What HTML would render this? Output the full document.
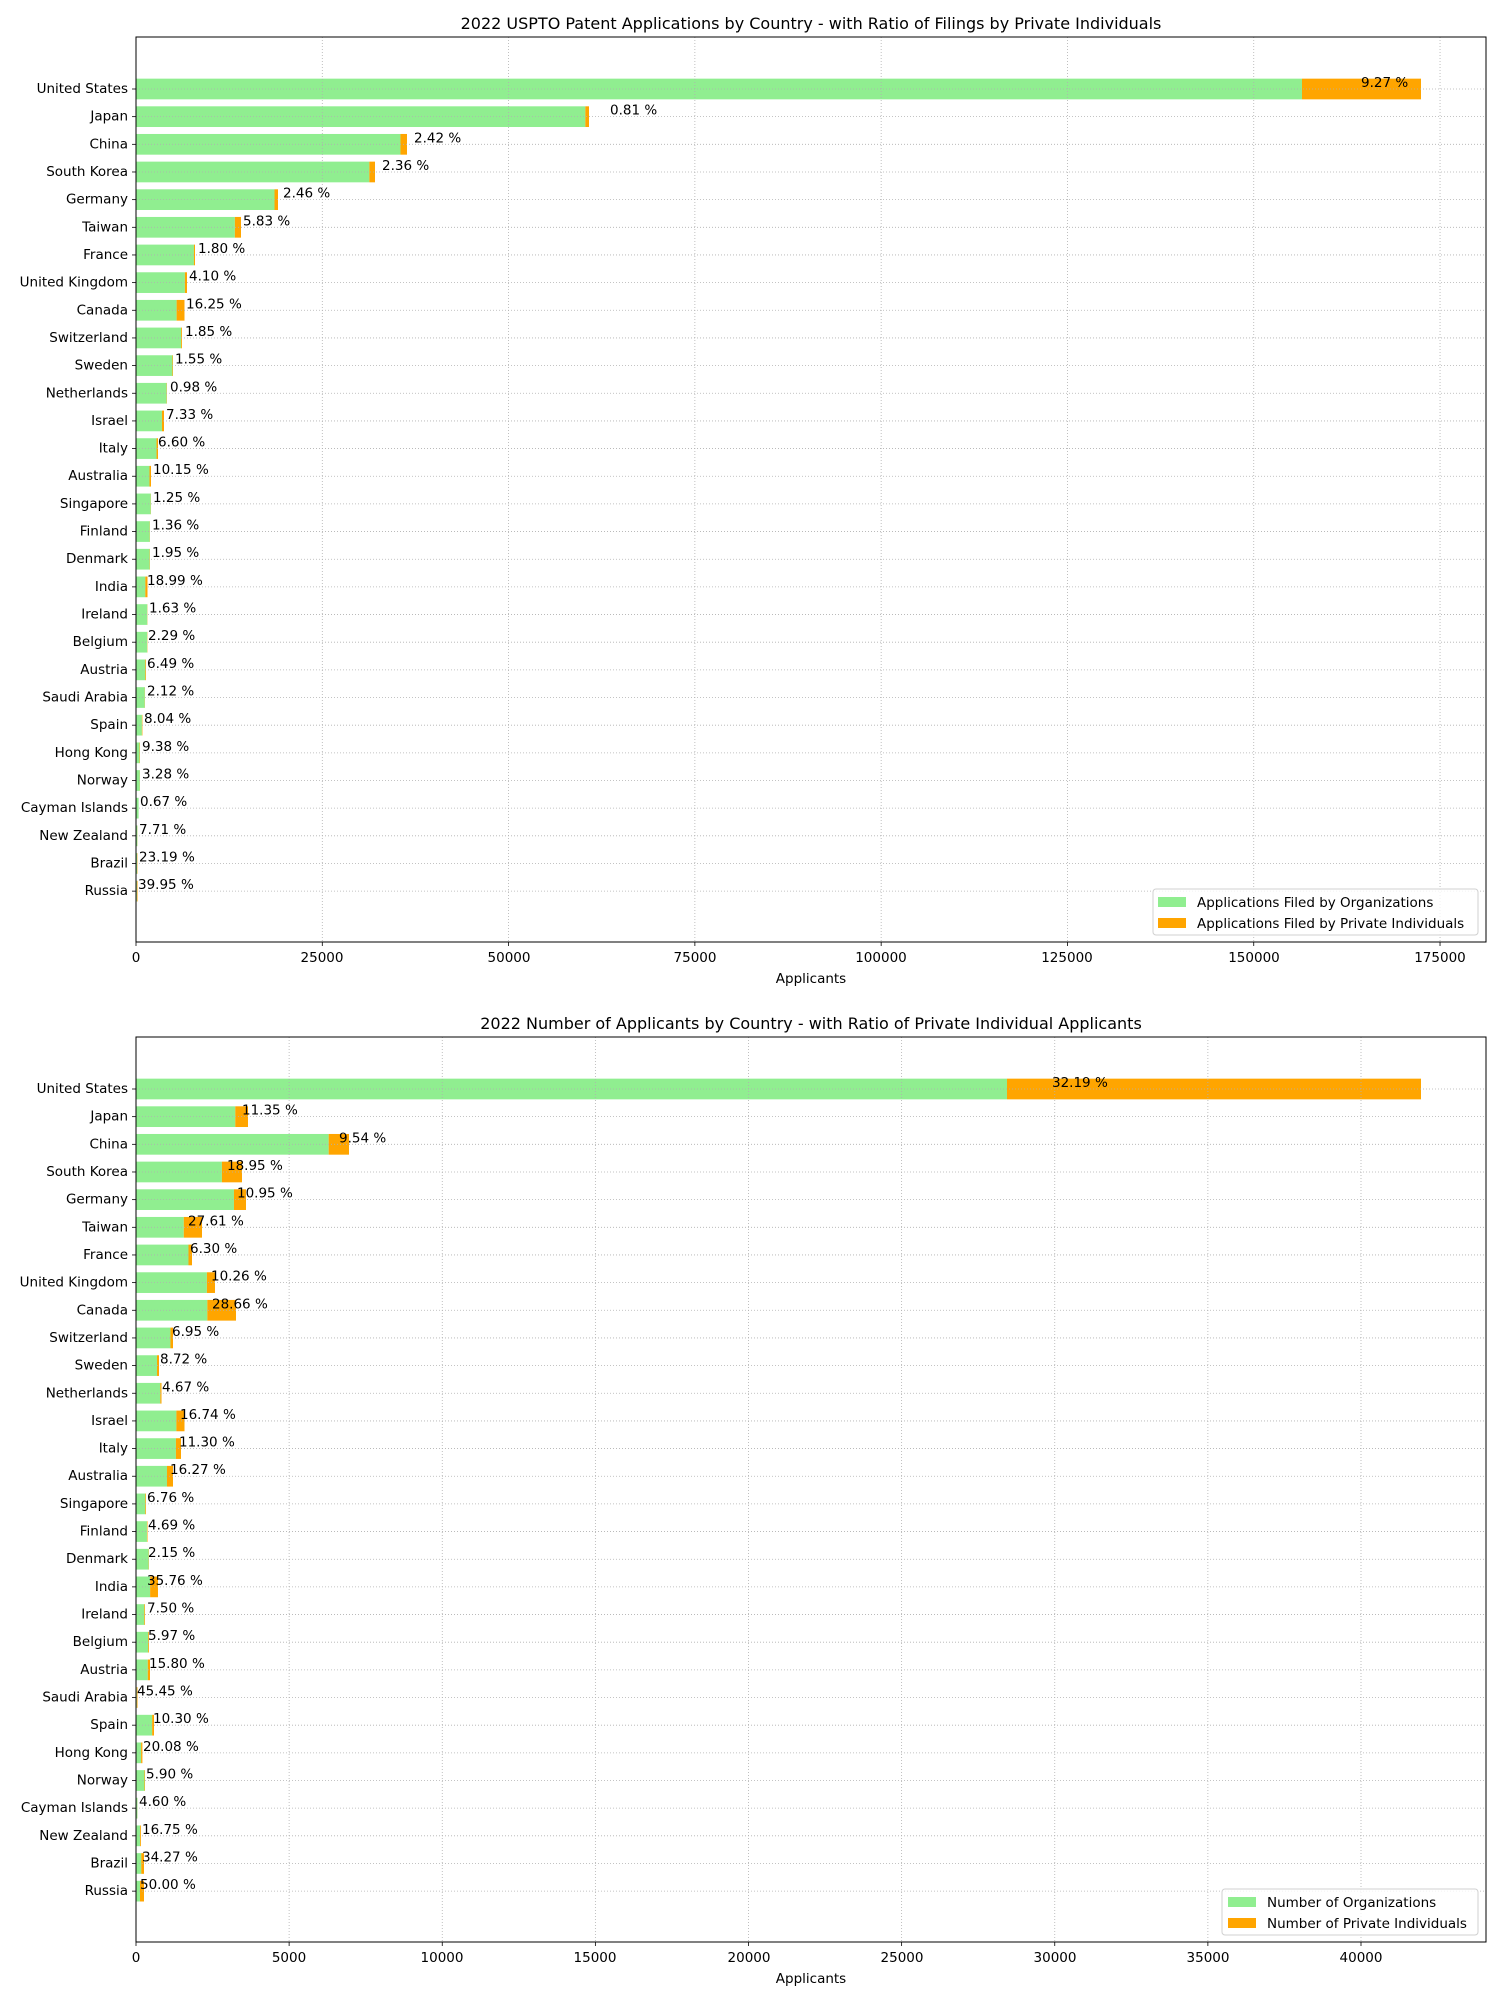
<!DOCTYPE html>
<html><head><meta charset="utf-8"><style>
html,body{margin:0;padding:0;background:#fff;}
svg{display:block;font-family:"DejaVu Sans","Liberation Sans",sans-serif;}
.t{font-size:13.5px;fill:#000;}
.ttl{font-size:16px;text-anchor:middle;}
.yl{font-size:13.5px;text-anchor:end;dominant-baseline:central;}
.xl{font-size:13.5px;text-anchor:middle;}
.pl{font-size:13.5px;dominant-baseline:central;}
</style></head><body>
<svg id="s" width="1500" height="2000" viewBox="0 0 1500 2000" xmlns="http://www.w3.org/2000/svg">
<rect width="1500" height="2000" fill="#fff"/>
<g id="bars"></g>
<text class="t ttl" x="811" y="29">2022 USPTO Patent Applications by Country - with Ratio of Filings by Private Individuals</text>
<text class="t ttl" x="811" y="1029">2022 Number of Applicants by Country - with Ratio of Private Individual Applicants</text>
<text class="t xl" x="811" y="983">Applicants</text>
<text class="t xl" x="811" y="1983">Applicants</text>
<g class="t xl">
<text x="136" y="962">0</text><text x="322" y="962">25000</text><text x="509" y="962">50000</text><text x="695" y="962">75000</text><text x="881" y="962">100000</text><text x="1067" y="962">125000</text><text x="1254" y="962">150000</text><text x="1440" y="962">175000</text>
<text x="136" y="1962">0</text><text x="289" y="1962">5000</text><text x="442" y="1962">10000</text><text x="595" y="1962">15000</text><text x="749" y="1962">20000</text><text x="902" y="1962">25000</text><text x="1055" y="1962">30000</text><text x="1208" y="1962">35000</text><text x="1361" y="1962">40000</text>
</g>
<g class="t yl">
<text x="128" y="89">United States</text><text x="128" y="116.7">Japan</text><text x="128" y="144.3">China</text><text x="128" y="172">South Korea</text><text x="128" y="199.6">Germany</text><text x="128" y="227.3">Taiwan</text><text x="128" y="255">France</text><text x="128" y="282.6">United Kingdom</text><text x="128" y="310.3">Canada</text><text x="128" y="337.9">Switzerland</text><text x="128" y="365.6">Sweden</text><text x="128" y="393.3">Netherlands</text><text x="128" y="420.9">Israel</text><text x="128" y="448.6">Italy</text><text x="128" y="476.2">Australia</text><text x="128" y="503.9">Singapore</text><text x="128" y="531.6">Finland</text><text x="128" y="559.2">Denmark</text><text x="128" y="586.9">India</text><text x="128" y="614.5">Ireland</text><text x="128" y="642.2">Belgium</text><text x="128" y="669.9">Austria</text><text x="128" y="697.5">Saudi Arabia</text><text x="128" y="725.2">Spain</text><text x="128" y="752.8">Hong Kong</text><text x="128" y="780.5">Norway</text><text x="128" y="808.2">Cayman Islands</text><text x="128" y="835.8">New Zealand</text><text x="128" y="863.5">Brazil</text><text x="128" y="891.1">Russia</text>
</g>
<g class="t yl" transform="translate(0,1000)">
<text x="128" y="89">United States</text><text x="128" y="116.7">Japan</text><text x="128" y="144.3">China</text><text x="128" y="172">South Korea</text><text x="128" y="199.6">Germany</text><text x="128" y="227.3">Taiwan</text><text x="128" y="255">France</text><text x="128" y="282.6">United Kingdom</text><text x="128" y="310.3">Canada</text><text x="128" y="337.9">Switzerland</text><text x="128" y="365.6">Sweden</text><text x="128" y="393.3">Netherlands</text><text x="128" y="420.9">Israel</text><text x="128" y="448.6">Italy</text><text x="128" y="476.2">Australia</text><text x="128" y="503.9">Singapore</text><text x="128" y="531.6">Finland</text><text x="128" y="559.2">Denmark</text><text x="128" y="586.9">India</text><text x="128" y="614.5">Ireland</text><text x="128" y="642.2">Belgium</text><text x="128" y="669.9">Austria</text><text x="128" y="697.5">Saudi Arabia</text><text x="128" y="725.2">Spain</text><text x="128" y="752.8">Hong Kong</text><text x="128" y="780.5">Norway</text><text x="128" y="808.2">Cayman Islands</text><text x="128" y="835.8">New Zealand</text><text x="128" y="863.5">Brazil</text><text x="128" y="891.1">Russia</text>
</g>
<g class="t pl">
<text x="1361" y="83">9.27 %</text><text x="610" y="110.7">0.81 %</text><text x="414" y="138.3">2.42 %</text><text x="382" y="166">2.36 %</text><text x="283" y="193.6">2.46 %</text><text x="243" y="221.3">5.83 %</text><text x="198" y="249">1.80 %</text><text x="189" y="276.6">4.10 %</text><text x="186" y="304.3">16.25 %</text><text x="185" y="331.9">1.85 %</text><text x="175" y="359.6">1.55 %</text><text x="170" y="387.3">0.98 %</text><text x="166" y="414.9">7.33 %</text><text x="158" y="442.6">6.60 %</text><text x="153" y="470.2">10.15 %</text><text x="153" y="497.9">1.25 %</text><text x="152" y="525.6">1.36 %</text><text x="152" y="553.2">1.95 %</text><text x="147" y="580.9">18.99 %</text><text x="149" y="608.5">1.63 %</text><text x="148" y="636.2">2.29 %</text><text x="147" y="663.9">6.49 %</text><text x="147" y="691.5">2.12 %</text><text x="144" y="719.2">8.04 %</text><text x="142" y="746.8">9.38 %</text><text x="142" y="774.5">3.28 %</text><text x="140" y="802.2">0.67 %</text><text x="139" y="829.8">7.71 %</text><text x="139" y="857.5">23.19 %</text><text x="138" y="885.1">39.95 %</text>
</g>
<g class="t pl" transform="translate(0,1000)">
<text x="1052" y="83">32.19 %</text><text x="242" y="110.7">11.35 %</text><text x="339" y="138.3">9.54 %</text><text x="227" y="166">18.95 %</text><text x="237" y="193.6">10.95 %</text><text x="188" y="221.3">27.61 %</text><text x="190" y="249">6.30 %</text><text x="211" y="276.6">10.26 %</text><text x="212" y="304.3">28.66 %</text><text x="172" y="331.9">6.95 %</text><text x="160" y="359.6">8.72 %</text><text x="162" y="387.3">4.67 %</text><text x="180" y="414.9">16.74 %</text><text x="179" y="442.6">11.30 %</text><text x="170" y="470.2">16.27 %</text><text x="147" y="497.9">6.76 %</text><text x="148" y="525.6">4.69 %</text><text x="148" y="553.2">2.15 %</text><text x="147" y="580.9">35.76 %</text><text x="147" y="608.5">7.50 %</text><text x="148" y="636.2">5.97 %</text><text x="149" y="663.9">15.80 %</text><text x="137" y="691.5">45.45 %</text><text x="153" y="719.2">10.30 %</text><text x="143" y="746.8">20.08 %</text><text x="146" y="774.5">5.90 %</text><text x="139" y="802.2">4.60 %</text><text x="142" y="829.8">16.75 %</text><text x="142" y="857.5">34.27 %</text><text x="140" y="885.1">50.00 %</text>
</g>
<g>
<rect x="1153" y="889" width="325" height="46" fill="#fff" fill-opacity="0.8" stroke="#d0d0d0" rx="3"/>
<rect x="1158" y="897" width="28" height="10" fill="#90ee90"/>
<rect x="1158" y="918" width="28" height="10" fill="#ffa500"/>
<text class="t" x="1197" y="907">Applications Filed by Organizations</text>
<text class="t" x="1197" y="928">Applications Filed by Private Individuals</text>
<rect x="1222" y="1889" width="256" height="46" fill="#fff" fill-opacity="0.8" stroke="#d0d0d0" rx="3"/>
<rect x="1228" y="1897" width="28" height="10" fill="#90ee90"/>
<rect x="1228" y="1918" width="28" height="10" fill="#ffa500"/>
<text class="t" x="1267" y="1907">Number of Organizations</text>
<text class="t" x="1267" y="1928">Number of Private Individuals</text>
</g>
</svg>
<script>
(function(){
var NS="http://www.w3.org/2000/svg",g=document.getElementById("bars");
function el(t,a){var e=document.createElementNS(NS,t);for(var k in a)e.setAttribute(k,a[k]);g.appendChild(e);return e;}
function panel(oy,ticks,tot,pct,usOrg){
 var L=136,R=1486,T=37+oy,B=942+oy;
 for(var i=0;i<30;i++){var y=89+oy+i*27.66;var w=tot[i],o=(i==0?usOrg:w*(1-pct[i]/100));
  el("rect",{x:L,y:y-10.35,width:o,height:20.7,fill:"#90ee90"});
  el("rect",{x:L+o,y:y-10.35,width:w-o,height:20.7,fill:"#ffa500"});}
 for(var i=0;i<30;i++){var y=89+oy+i*27.66;el("line",{x1:L,x2:R,y1:y,y2:y,stroke:"#b0b0b0","stroke-width":0.8,"stroke-dasharray":"1,2"});
  el("line",{x1:L-4,x2:L,y1:y,y2:y,stroke:"#000","stroke-width":0.8});}
 ticks.forEach(function(x){el("line",{x1:x,x2:x,y1:T,y2:B,stroke:"#b0b0b0","stroke-width":0.8,"stroke-dasharray":"1,2"});
  el("line",{x1:x,x2:x,y1:B,y2:B+4,stroke:"#000","stroke-width":0.8});});
 el("rect",{x:L,y:T,width:R-L,height:B-T,fill:"none",stroke:"#000","stroke-width":1});
}
var tt=[],tb=[];for(var k=0;k<8;k++)tt.push(136+k*186.29);for(var k=0;k<9;k++)tb.push(136+k*153.125);
panel(0,tt,[1285,453,271,239,142,105,59,51,48.5,46,37,31,28,22,15,15,14,14,11.5,11.5,11.5,10,9,6.4,4,4,2.6,1.5,1.5,1.5],
[9.27,0.81,2.42,2.36,2.46,5.83,1.8,4.1,16.25,1.85,1.55,0.98,7.33,6.6,10.15,1.25,1.36,1.95,18.99,1.63,2.29,6.49,2.12,8.04,9.38,3.28,0.67,7.71,23.19,39.95],1166);
panel(1000,tb,[1285,112,213,106,110,66,56,79,100,37,23,25.5,48.5,45,37,10,11.5,13,22,9,13,14,1.5,18,6.4,9,1.5,5,8,8],
[32.19,11.35,9.54,18.95,10.95,27.61,6.3,10.26,28.66,6.95,8.72,4.67,16.74,11.3,16.27,6.76,4.69,2.15,35.76,7.5,5.97,15.8,45.45,10.3,20.08,5.9,4.6,16.75,34.27,50],871);
})();
</script>
</body></html>
